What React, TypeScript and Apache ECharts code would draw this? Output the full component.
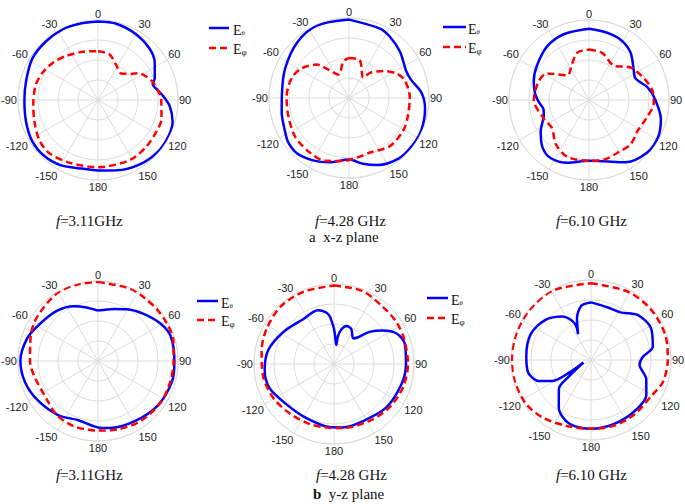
import React, { useEffect, useRef } from "react";
import * as echarts from "echarts";

// ---- Data: [angle (deg, clockwise from 0 at top), normalized radius] ----
const xz311Etheta: number[][] = [
  [0, 0.98], [13.5, 0.98], [30, 0.95], [45, 0.91], [56.5, 0.85], [69, 0.76], [74, 0.71], [79, 0.74],
  [86, 0.81], [95, 0.9], [106, 0.97], [117, 0.99], [131, 0.99], [147, 0.96], [165, 0.91], [180, 0.88],
  [-167, 0.88], [-150, 0.94], [-136, 0.97], [-122, 0.97], [-107, 0.94], [-90, 0.92], [-75, 0.93],
  [-58, 0.97], [-42, 0.98], [-26, 0.99], [-13.5, 0.98], [0, 0.98],
];
const xz311Ephi: number[][] = [
  [0, 0.61], [14, 0.59], [28, 0.49], [41, 0.44], [52, 0.53], [56, 0.6], [64, 0.67], [72, 0.72],
  [81, 0.76], [90, 0.79], [107, 0.83], [118, 0.83], [134, 0.84], [152, 0.85], [180, 0.84],
  [-156, 0.86], [-138, 0.9], [-125, 0.89], [-109, 0.84], [-93, 0.81], [-76, 0.8], [-63, 0.77],
  [-50, 0.73], [-36, 0.68], [-17, 0.63], [0, 0.61],
];
const xz428Etheta: number[][] = [
  [0, 0.98], [24, 0.95], [34, 0.92], [48, 0.86], [65, 0.79], [74, 0.81], [86, 0.91], [98, 0.96],
  [114, 0.99], [126, 0.99], [140, 0.98], [157, 0.91], [168, 0.84], [180, 0.77], [-163, 0.84],
  [-150, 0.9], [-137, 0.95], [-126, 0.94], [-117, 0.9], [-102, 0.86], [-86, 0.84], [-65, 0.88],
  [-43, 0.95], [-24, 0.99], [0, 0.98],
];
const xz428Ephi: number[][] = [
  [0, 0.5], [16, 0.49], [35, 0.31], [40, 0.41], [52, 0.55], [63, 0.67], [72, 0.73], [89, 0.76],
  [107, 0.77], [121, 0.79], [140, 0.79], [159, 0.73], [172, 0.75], [-175, 0.79], [-159, 0.84],
  [-145, 0.84], [-126, 0.83], [-106, 0.79], [-89, 0.78], [-71, 0.76], [-58, 0.7], [-44, 0.58],
  [-36, 0.44], [-24, 0.32], [-9, 0.46], [0, 0.5],
];
const xz610Etheta: number[][] = [
  [0, 0.89], [15, 0.87], [28, 0.85], [41, 0.79], [55, 0.68], [65, 0.64], [78, 0.75], [90, 0.83],
  [105, 0.93], [118, 0.98], [132, 0.98], [150, 0.9], [166, 0.79], [180, 0.76], [-161, 0.83],
  [-146.5, 0.87], [-135.5, 0.83], [-123, 0.72], [-115, 0.64], [-109.6, 0.6], [-102, 0.58],
  [-92, 0.63], [-83, 0.68], [-71, 0.73], [-56.5, 0.78], [-38, 0.85], [-21, 0.88], [0, 0.89],
];
const xz610Ephi: number[][] = [
  [0, 0.63], [16, 0.61], [36, 0.53], [52, 0.66], [69, 0.74], [81, 0.8], [93, 0.81], [108, 0.75],
  [123, 0.72], [137, 0.76], [152, 0.75], [166, 0.77], [180, 0.76], [-159, 0.76], [-143, 0.69],
  [-127, 0.58], [-113, 0.61], [-90, 0.69], [-69, 0.67], [-57.6, 0.62], [-41, 0.41], [-25, 0.5],
  [-14, 0.61], [0, 0.63],
];
const yz311Etheta: number[][] = [
  [0, 0.63], [17, 0.68], [29, 0.74], [44, 0.82], [59, 0.91], [71, 0.96], [90, 0.955], [106, 0.96],
  [127, 0.93], [149, 0.88], [170, 0.85], [180, 0.83], [-161, 0.78], [-144, 0.84], [-123, 0.9],
  [-106, 0.95], [-90, 0.97], [-72.5, 0.93], [-57, 0.86], [-39, 0.81], [-24, 0.75], [-12, 0.685],
  [0, 0.63],
];
const yz311Ephi: number[][] = [
  [0, 0.99], [24, 0.99], [35.5, 0.98], [49, 0.98], [61, 0.98], [74, 0.98], [90, 0.945],
  [106, 0.94], [124, 0.94], [145, 0.92], [164, 0.89], [180, 0.87], [-160, 0.87], [-143, 0.85],
  [-127, 0.8], [-103, 0.82], [-90, 0.85], [-69, 0.9], [-54, 0.94], [-31, 0.99], [-15, 0.99],
  [0, 0.99],
];
const yz428Etheta: number[][] = [
  [-5, 0.6], [0, 0.44], [4, 0.29], [7, 0.24], [8, 0.35], [12, 0.44], [18, 0.5], [26, 0.49],
  [37, 0.4], [42, 0.45], [48, 0.6], [55.5, 0.74], [64, 0.87], [74, 0.92], [90, 0.9], [107, 0.88],
  [130, 0.85], [153, 0.8], [172, 0.8], [-176, 0.79], [-152, 0.76], [-130, 0.78], [-110.6, 0.86],
  [-95, 0.87], [-78, 0.84], [-58, 0.75], [-35, 0.68], [-16.6, 0.7], [-8.4, 0.65], [-5, 0.6],
];
const yz428Ephi: number[][] = [
  [0, 0.98], [21, 0.98], [40, 0.94], [56, 0.94], [71, 0.93], [90, 0.925], [109, 0.91], [128, 0.88],
  [147, 0.84], [172, 0.81], [-173, 0.8], [-158, 0.81], [-138, 0.83], [-119, 0.87], [-99, 0.9],
  [-79.6, 0.92], [-62.5, 0.95], [-43, 0.98], [-23, 0.98], [0, 0.98],
];
const yz610Etheta: number[][] = [
  [0, 0.72], [17, 0.69], [31.7, 0.7], [46, 0.81], [62, 0.85], [78, 0.79], [86.5, 0.65], [95.7, 0.61],
  [109, 0.73], [122.5, 0.82], [140, 0.84], [160, 0.85], [180, 0.86], [-161, 0.84], [-146, 0.72],
  [-132, 0.54], [-127, 0.36], [-108, 0.1], [-120, 0.31], [-118.5, 0.55], [-112, 0.7],
  [-101.6, 0.8], [-87, 0.81], [-67, 0.82], [-48.6, 0.76], [-33, 0.65], [-24, 0.5], [-26.6, 0.36],
  [-18.6, 0.55], [-10, 0.69], [0, 0.72],
];
const yz610Ephi: number[][] = [
  [0, 0.96], [28, 0.97], [49.5, 0.98], [71, 0.98], [90, 0.96], [107, 0.94], [120, 0.88],
  [141.5, 0.87], [161, 0.87], [180, 0.86], [-159, 0.88], [-139.7, 0.94], [-124, 0.98],
  [-106, 0.99], [-90, 0.99], [-71, 0.99], [-50.6, 0.99], [-28.6, 0.99], [0, 0.96],
];

const captionsTop = ["3.11GHz", "4.28 GHz", "6.10 GHz"];
const captionsBottom = ["3.11GHz", "4.28 GHz", "6.10 GHz"];

const BLUE = "#0000ff";
const RED = "#ff0000";
const GRID = "#dcdcdc";

const toData = (arr: number[][]) =>
  arr.map(([a, r]) => [r, a < 0 ? a + 360 : a]);

export default function App() {
  const ref = useRef<HTMLDivElement>(null);
  useEffect(() => {
    if (!ref.current) return;
    const chart = echarts.init(ref.current, null, { renderer: "svg" });
    const centers = [
      [98, 100], [349, 98], [589, 100],
      [98, 361], [334, 364], [591, 360],
    ];
    const R = 80;
    const pairs = [
      [xz311Etheta, xz311Ephi], [xz428Etheta, xz428Ephi], [xz610Etheta, xz610Ephi],
      [yz311Etheta, yz311Ephi], [yz428Etheta, yz428Ephi], [yz610Etheta, yz610Ephi],
    ];
    const polar = centers.map((c) => ({ center: c, radius: R }));
    const angleAxis = centers.map((_, i) => ({
      polarIndex: i,
      type: "value",
      min: 0,
      max: 360,
      interval: 30,
      startAngle: 90,
      clockwise: true,
      axisLine: { show: true, lineStyle: { color: GRID, width: 1 } },
      axisTick: { show: false },
      splitLine: { show: true, lineStyle: { color: GRID, width: 1 } },
      axisLabel: {
        margin: 1,
        color: "#222",
        fontSize: 11,
        fontFamily: "Liberation Sans, Arial, sans-serif",
        formatter: (v: number) => (v === 360 ? "" : String(v > 180 ? v - 360 : v)),
      },
    }));
    const radiusAxis = centers.map((_, i) => ({
      polarIndex: i,
      type: "value",
      min: 0,
      max: 1,
      interval: 0.25,
      axisLine: { show: false },
      axisTick: { show: false },
      axisLabel: { show: false },
      splitLine: { show: true, lineStyle: { color: GRID, width: 1 } },
    }));
    const series: any[] = [];
    pairs.forEach(([et, ep], i) => {
      series.push({
        type: "line",
        name: "Eθ",
        coordinateSystem: "polar",
        polarIndex: i,
        data: toData(et),
        showSymbol: false,
        symbol: "none",
        smooth: 0.3,
        lineStyle: { color: BLUE, width: 2.5 },
        z: 3,
      });
      series.push({
        type: "line",
        name: "Eφ",
        coordinateSystem: "polar",
        polarIndex: i,
        data: toData(ep),
        showSymbol: false,
        symbol: "none",
        smooth: 0.3,
        lineStyle: { color: RED, width: 2.5, type: [7, 4] },
        z: 4,
      });
    });

    const serif = "Liberation Serif, Times New Roman, serif";
    const legendAt = (x0: number, x1: number, y1: number, y2: number, tx: number) => [
      { type: "line", shape: { x1: x0, y1: y1, x2: x1, y2: y1 }, style: { stroke: BLUE, lineWidth: 2.5 } },
      { type: "line", shape: { x1: x0, y1: y2, x2: x1, y2: y2 }, style: { stroke: RED, lineWidth: 2.5, lineDash: [7, 4] } },
      {
        type: "text", x: tx, y: y1 + 2,
        style: {
          text: "{e|E}{s|θ}", verticalAlign: "middle",
          rich: { e: { fontFamily: serif, fontSize: 14, fill: "#111" }, s: { fontFamily: serif, fontSize: 7, fill: "#111", padding: [6, 0, 0, 0] } },
        },
      },
      {
        type: "text", x: tx, y: y2 + 1,
        style: {
          text: "{e|E}{s|φ}", verticalAlign: "middle",
          rich: { e: { fontFamily: serif, fontSize: 14, fill: "#111" }, s: { fontFamily: serif, fontSize: 9, fill: "#111", padding: [6, 0, 0, 0] } },
        },
      },
    ];
    const caption = (x: number, y: number, t: string) => ({
      type: "text", x, y,
      style: {
        text: "{i|f}{n|=" + t + "}", verticalAlign: "middle",
        rich: {
          i: { fontFamily: serif, fontStyle: "italic", fontSize: 15, fill: "#111" },
          n: { fontFamily: serif, fontSize: 15, fill: "#111" },
        },
      },
    });
    const sub = (x: number, y: number, letter: string, bold: boolean, t: string) => ({
      type: "text", x, y,
      style: {
        text: "{b|" + letter + "}{n|  " + t + "}", verticalAlign: "middle",
        rich: {
          b: { fontFamily: serif, fontSize: 15, fontWeight: bold ? "bold" : "normal", fill: "#111" },
          n: { fontFamily: serif, fontSize: 15, fill: "#111" },
        },
      },
    });
    const graphic: any[] = [
      ...legendAt(209, 229, 28, 48, 233),
      ...legendAt(443, 466, 27, 47, 468),
      ...legendAt(197, 218, 301, 320, 221),
      ...legendAt(427, 448, 298, 318, 451),
      caption(56, 221, captionsTop[0]),
      caption(315, 221, captionsTop[1]),
      caption(556, 221, captionsTop[2]),
      sub(309, 237, "a", false, "x-z plane"),
      caption(56, 475, captionsBottom[0]),
      caption(316, 475, captionsBottom[1]),
      caption(556, 475, captionsBottom[2]),
      sub(313, 494, "b", true, "y-z plane"),
    ];

    chart.setOption({
      animation: false,
      backgroundColor: "#fff",
      polar,
      angleAxis,
      radiusAxis,
      series,
      graphic,
    } as any);
    return () => chart.dispose();
  }, []);
  return (
    <div
      ref={ref}
      style={{ position: "absolute", left: 0, top: 0, width: 685, height: 504 }}
    />
  );
}
